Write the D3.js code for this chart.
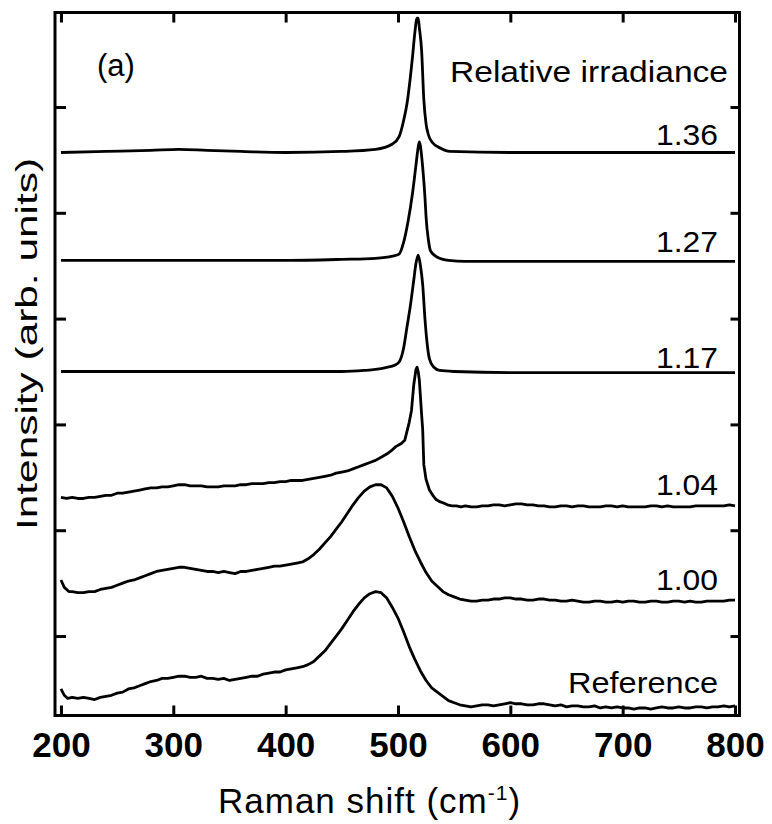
<!DOCTYPE html>
<html>
<head>
<meta charset="utf-8">
<script src="https://cdn.jsdelivr.net/npm/d3@7"></script>
<style>
  html, body { margin: 0; padding: 0; background: #fff; }
  svg { display: block; }
  text { font-family: "Liberation Sans", Arial, sans-serif; fill: #000; }
</style>
</head>
<body>
<svg id="chart" width="772" height="824"></svg>
<script>
// ---------------- data ----------------
const xTicks = [200, 300, 400, 500, 600, 700, 800];
const yTicks = [1, 2, 3, 4, 5, 6];
const seriesLabels = ["Reference", "1.00", "1.04", "1.17", "1.27", "1.36"];
const legendTitle = "Relative irradiance";
const panelLabel = "(a)";

// Raman shift (cm-1)
const xRef = [200,203,206,210,215,220,225,230,235,240,245,250,255,260,265,270,275,280,285,290,295,300,305,310,315,320,325,330,335,340,345,350,355,360,365,370,375,380,385,390,395,400,405,410,415,420,425,430,435,440,445,450,455,460,465,470,475,480,485,490,495,500,505,510,515,520,525,530,535,540,545,550,555,560,565,570,575,580,585,590,595,600,605,610,615,620,625,630,635,640,645,650,655,660,665,670,675,680,685,690,695,700,705,710,715,720,725,730,735,740,745,750,755,760,765,770,775,780,785,790,795,800];
const yRef = [0.50,0.44,0.41,0.42,0.41,0.42,0.41,0.40,0.42,0.43,0.44,0.46,0.47,0.50,0.51,0.53,0.55,0.57,0.58,0.60,0.60,0.61,0.62,0.62,0.61,0.61,0.62,0.60,0.60,0.59,0.60,0.58,0.59,0.60,0.61,0.62,0.62,0.64,0.65,0.66,0.66,0.68,0.69,0.70,0.71,0.73,0.76,0.81,0.86,0.93,1.00,1.07,1.15,1.23,1.30,1.36,1.40,1.42,1.41,1.36,1.27,1.17,1.04,0.90,0.78,0.67,0.58,0.51,0.47,0.43,0.39,0.37,0.35,0.34,0.33,0.34,0.35,0.35,0.34,0.35,0.36,0.37,0.36,0.36,0.35,0.35,0.36,0.36,0.35,0.34,0.35,0.33,0.34,0.34,0.33,0.33,0.34,0.32,0.33,0.32,0.33,0.32,0.32,0.31,0.32,0.32,0.31,0.32,0.33,0.32,0.32,0.33,0.32,0.32,0.33,0.33,0.32,0.33,0.33,0.34,0.33,0.34];

const x100 = [200,203,207,210,215,220,225,230,235,240,245,250,255,260,265,270,275,280,285,290,295,300,305,310,315,320,325,330,335,340,345,350,355,360,365,370,375,380,385,390,395,400,405,410,415,420,425,430,435,440,445,450,455,460,465,470,475,480,485,490,495,500,505,510,515,520,525,530,535,540,545,550,555,560,565,570,575,580,585,590,595,600,605,610,615,620,625,630,635,640,645,650,655,660,665,670,675,680,685,690,695,700,705,710,715,720,725,730,735,740,745,750,755,760,765,770,775,780,785,790,795,800];
const y100 = [1.53,1.46,1.42,1.42,1.41,1.41,1.42,1.42,1.44,1.45,1.46,1.48,1.50,1.52,1.53,1.55,1.57,1.59,1.61,1.62,1.63,1.64,1.65,1.65,1.64,1.63,1.62,1.61,1.61,1.60,1.61,1.60,1.59,1.61,1.61,1.62,1.63,1.64,1.65,1.66,1.66,1.67,1.68,1.69,1.70,1.73,1.77,1.82,1.88,1.94,2.01,2.08,2.16,2.24,2.31,2.37,2.41,2.43,2.43,2.40,2.32,2.21,2.08,1.94,1.81,1.70,1.60,1.52,1.47,1.42,1.39,1.37,1.35,1.34,1.33,1.33,1.34,1.34,1.35,1.35,1.36,1.36,1.35,1.35,1.34,1.34,1.35,1.35,1.34,1.34,1.33,1.33,1.34,1.33,1.32,1.32,1.33,1.33,1.32,1.32,1.33,1.32,1.33,1.33,1.32,1.32,1.33,1.33,1.32,1.32,1.33,1.33,1.32,1.33,1.32,1.32,1.33,1.33,1.33,1.33,1.34,1.34];

const x104 = [200,205,210,215,220,225,230,235,240,245,250,255,260,265,270,275,280,285,290,295,300,305,310,315,320,325,330,335,340,345,350,355,360,365,370,375,380,385,390,395,400,405,410,415,420,425,430,435,440,445,450,455,460,465,470,475,480,485,490,495,498,503,506,510,512,514,516,517,518,519,521,522,523,525,528,531,534,537,540,544,548,552,556,560,565,570,575,580,585,590,595,600,605,610,615,620,625,630,635,640,645,650,655,660,665,670,675,680,685,690,695,700,705,710,715,720,725,730,735,740,745,750,755,760,765,770,775,780,785,790,795,800];
const y104 = [2.31,2.30,2.31,2.30,2.30,2.31,2.31,2.32,2.33,2.33,2.35,2.35,2.36,2.37,2.38,2.39,2.40,2.40,2.41,2.41,2.42,2.43,2.43,2.42,2.42,2.42,2.41,2.41,2.41,2.42,2.42,2.42,2.43,2.43,2.44,2.44,2.44,2.45,2.45,2.46,2.46,2.47,2.47,2.47,2.48,2.49,2.50,2.51,2.52,2.54,2.55,2.56,2.58,2.60,2.62,2.64,2.66,2.69,2.72,2.76,2.79,2.82,2.85,3.02,3.13,3.37,3.52,3.54,3.50,3.42,3.10,2.95,2.62,2.48,2.38,2.33,2.29,2.27,2.26,2.24,2.23,2.23,2.22,2.23,2.22,2.22,2.23,2.23,2.24,2.24,2.23,2.24,2.25,2.25,2.24,2.24,2.23,2.23,2.22,2.22,2.23,2.23,2.22,2.23,2.23,2.22,2.22,2.22,2.23,2.23,2.22,2.23,2.22,2.22,2.22,2.22,2.23,2.23,2.22,2.23,2.22,2.22,2.22,2.22,2.23,2.23,2.23,2.23,2.23,2.23,2.24,2.23];

const x117 = [200,250,300,350,400,450,470,480,490,497,501,505,508,511,514,516,518,520,522,524,526,528,532,537,550,600,700,800];
const y117 = [3.50,3.50,3.50,3.50,3.50,3.50,3.51,3.52,3.54,3.56,3.59,3.72,3.92,4.12,4.36,4.52,4.60,4.50,4.32,4.00,3.76,3.62,3.54,3.51,3.50,3.49,3.49,3.49];

const x127 = [200,300,400,450,480,495,501,505,509,513,516,518,519,520,522,524,525,527,529,535,545,560,700,800];
const y127 = [4.55,4.55,4.55,4.56,4.57,4.59,4.61,4.72,4.92,5.19,5.45,5.62,5.67,5.63,5.43,5.15,4.96,4.75,4.64,4.58,4.55,4.54,4.54,4.54];

const x136 = [200,240,280,305,330,360,400,450,480,495,501,505,508,511,513,515,517,518,519,521,523,525,527,531,538,546,600,800];
const y136 = [5.57,5.58,5.59,5.60,5.59,5.58,5.57,5.58,5.60,5.65,5.72,5.87,6.03,6.28,6.48,6.70,6.84,6.84,6.75,6.54,6.07,5.84,5.74,5.66,5.61,5.58,5.57,5.57];

const spectra = [
  {label: seriesLabels[0], xs: xRef, ys: yRef, noisy: true},
  {label: seriesLabels[1], xs: x100, ys: y100, noisy: true},
  {label: seriesLabels[2], xs: x104, ys: y104, noisy: true},
  {label: seriesLabels[3], xs: x117, ys: y117, noisy: false},
  {label: seriesLabels[4], xs: x127, ys: y127, noisy: false},
  {label: seriesLabels[5], xs: x136, ys: y136, noisy: false}
];

// ---------------- layout ----------------
const svg = d3.select("#chart");
const L = 55, R = 739.5, T = 12.5, B = 715.5;
const x = d3.scaleLinear().domain([194.7, 804]).range([L, R]);
const y = d3.scaleLinear().domain([0.249, 6.893]).range([B, T]);

const lineSmooth = d3.line().x(d => x(d[0])).y(d => y(d[1])).curve(d3.curveMonotoneX);
const lineRough = d3.line().x(d => x(d[0])).y(d => y(d[1])).curve(d3.curveLinear);

// spectra
spectra.forEach(s => {
  const pts = s.xs.map((v, i) => [v, s.ys[i]]);
  svg.append("path")
    .datum(pts)
    .attr("d", s.noisy ? lineRough : lineSmooth)
    .attr("fill", "none")
    .attr("stroke", "#000")
    .attr("stroke-width", 2.8)
    .attr("stroke-linejoin", "round");
});

// axes (ticks inward)
const tickStyle = g => {
  g.select(".domain").remove();
  g.selectAll(".tick line").attr("stroke", "#000").attr("stroke-width", 3);
};
svg.append("g").attr("transform", `translate(0,${B})`)
  .call(d3.axisBottom(x).tickValues(xTicks).tickSizeInner(-10).tickSizeOuter(0).tickFormat(d3.format("d")))
  .call(tickStyle)
  .call(g => g.selectAll(".tick text")
    .attr("y", 0).attr("dy", null)
    .attr("transform", "translate(0,41.5)")
    .style("font-family", '"Liberation Sans", Arial, sans-serif')
    .style("font-size", "35px").style("font-weight", "bold").attr("fill", "#000"));
svg.append("g").attr("transform", `translate(0,${T})`)
  .call(d3.axisTop(x).tickValues(xTicks).tickSizeInner(-10).tickSizeOuter(0).tickFormat(""))
  .call(tickStyle);
svg.append("g").attr("transform", `translate(${L},0)`)
  .call(d3.axisLeft(y).tickValues(yTicks).tickSizeInner(-11).tickSizeOuter(0).tickFormat(""))
  .call(tickStyle);
svg.append("g").attr("transform", `translate(${R},0)`)
  .call(d3.axisRight(y).tickValues(yTicks).tickSizeInner(-9).tickSizeOuter(0).tickFormat(""))
  .call(tickStyle);

// frame
svg.append("rect")
  .attr("x", L).attr("y", T).attr("width", R - L).attr("height", B - T)
  .attr("fill", "none").attr("stroke", "#000").attr("stroke-width", 3);

// labels for each spectrum
const labelBaselines = [693, 590, 495, 368, 252, 145];
spectra.forEach((s, i) => {
  const t = svg.append("text")
    .attr("x", 718).attr("y", labelBaselines[i])
    .attr("text-anchor", "end")
    .style("font-size", "30px")
    .text(s.label);
  if (s.label === "Reference") t.attr("textLength", 150).attr("lengthAdjust", "spacingAndGlyphs");
  else t.attr("textLength", 62).attr("lengthAdjust", "spacingAndGlyphs");
});

svg.append("text")
  .attr("x", 728).attr("y", 82)
  .attr("text-anchor", "end")
  .attr("textLength", 278).attr("lengthAdjust", "spacingAndGlyphs")
  .style("font-size", "29px")
  .text(legendTitle);

svg.append("text")
  .attr("x", 97).attr("y", 76)
  .style("font-size", "31px")
  .text(panelLabel);

// axis titles
const xt = svg.append("text")
  .attr("x", 218).attr("y", 813)
  .style("font-size", "35px")
  .style("letter-spacing", "1px");
xt.append("tspan").text("Raman shift (cm");
xt.append("tspan").attr("dy", -13).style("font-size", "21px").text("-1");
xt.append("tspan").attr("dy", 13).text(")");

svg.append("text")
  .attr("transform", "translate(37,344) rotate(-90)")
  .attr("text-anchor", "middle")
  .attr("textLength", 372).attr("lengthAdjust", "spacingAndGlyphs")
  .style("font-size", "30px")
  .text("Intensity (arb. units)");
</script>
</body>
</html>
